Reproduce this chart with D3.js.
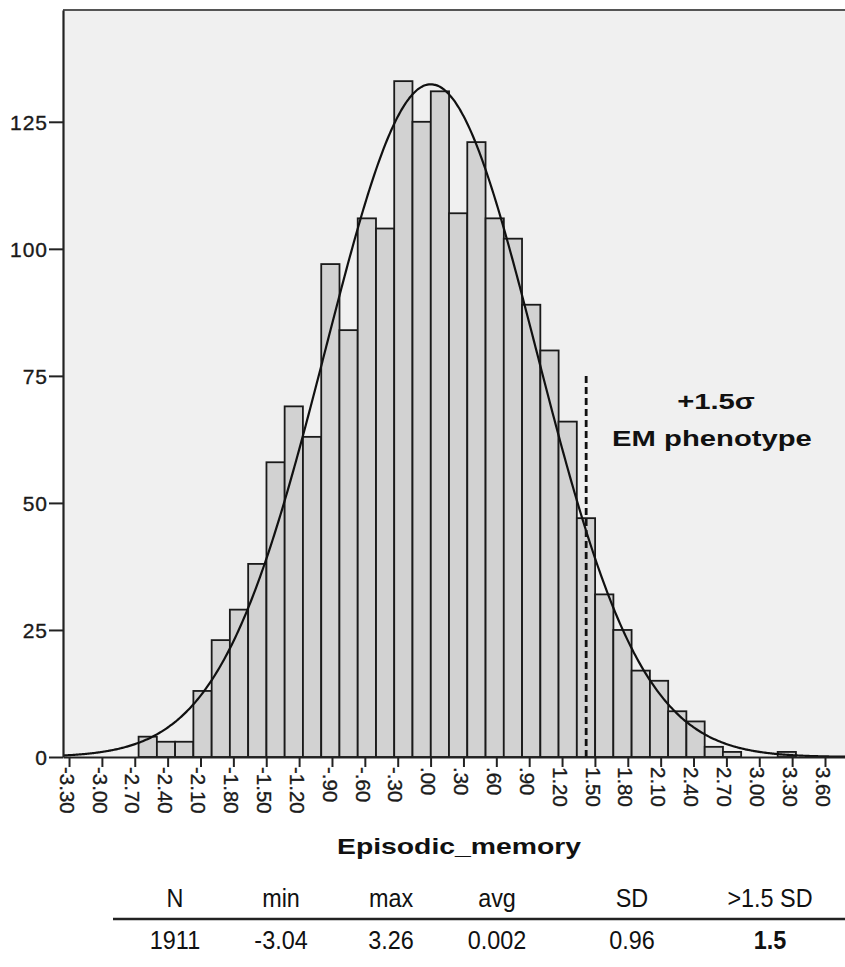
<!DOCTYPE html>
<html>
<head>
<meta charset="utf-8">
<script src="https://cdn.jsdelivr.net/npm/d3@7/dist/d3.min.js"></script>
<style>
  html, body { margin: 0; padding: 0; background: #ffffff; }
  svg { display: block; }
  text { font-family: "Liberation Sans", Arial, sans-serif; }
</style>
</head>
<body>
<svg id="chart" width="845" height="967"></svg>
<script>
// ---------------- data ----------------
const binLefts = [-2.665, -2.498, -2.332, -2.165, -1.998, -1.832, -1.665, -1.498, -1.332, -1.165,
                  -0.998, -0.832, -0.665, -0.498, -0.332, -0.165, 0.002, 0.168, 0.335, 0.502,
                  0.668, 0.835, 1.002, 1.168, 1.335, 1.502, 1.668, 1.835, 2.002, 2.168,
                  2.335, 2.502, 2.668, 2.835, 3.002, 3.168];
const binWidth = 0.1667;
const counts = [4, 3, 3, 13, 23, 29, 38, 58, 69, 63,
                97, 84, 106, 104, 133, 125, 131, 107, 121, 106,
                102, 89, 80, 66, 47, 32, 25, 17, 15, 9,
                7, 2, 1, 0, 0, 1];
const xTickValues = [-3.3, -3.0, -2.7, -2.4, -2.1, -1.8, -1.5, -1.2, -0.9, -0.6, -0.3, 0.0,
                     0.3, 0.6, 0.9, 1.2, 1.5, 1.8, 2.1, 2.4, 2.7, 3.0, 3.3, 3.6];
const xTickLabels = ["-3.30", "-3.00", "-2.70", "-2.40", "-2.10", "-1.80", "-1.50", "-1.20", "-.90", "-.60", "-.30", ".00",
                     ".30", ".60", ".90", "1.20", "1.50", "1.80", "2.10", "2.40", "2.70", "3.00", "3.30", "3.60"];
const yTickValues = [0, 25, 50, 75, 100, 125];
const fitN = 1911, fitMean = 0.002, fitSD = 0.96;
const thresholdX = 1.42, thresholdTop = 75.2;
const xTitle = "Episodic_memory";
const annotLines = ["+1.5\u03C3", "EM phenotype"];
const tableHeaders = ["N", "min", "max", "avg", "SD", ">1.5 SD"];
const tableValues = ["1911", "-3.04", "3.26", "0.002", "0.96", "1.5"];

// ---------------- layout ----------------
const W = 845, H = 967;
const plot = { left: 63, top: 10, right: 845, bottom: 757 };
const svg = d3.select("#chart");

const x = d3.scaleLinear().domain([-3.355, 3.7825]).range([plot.left, plot.right]);
const y = d3.scaleLinear().domain([0, 147]).range([plot.bottom, plot.top]);

svg.append("rect").attr("width", W).attr("height", H).attr("fill", "#ffffff");

// plot background
svg.append("rect")
  .attr("x", plot.left).attr("y", plot.top)
  .attr("width", plot.right - plot.left).attr("height", plot.bottom - plot.top)
  .attr("fill", "#f0f0f0");

// clip
svg.append("clipPath").attr("id", "pclip").append("rect")
  .attr("x", plot.left).attr("y", plot.top)
  .attr("width", plot.right - plot.left).attr("height", plot.bottom - plot.top);

const gPlot = svg.append("g").attr("clip-path", "url(#pclip)");

// bars
const bins = counts.map((c, i) => ({ x0: binLefts[i], x1: binLefts[i] + binWidth, c }));
gPlot.selectAll("rect.bar").data(bins.filter(d => d.c > 0)).enter().append("rect")
  .attr("class", "bar")
  .attr("x", d => x(d.x0))
  .attr("y", d => y(d.c))
  .attr("width", d => x(d.x1) - x(d.x0))
  .attr("height", d => y(0) - y(d.c))
  .attr("fill", "#d2d2d2")
  .attr("stroke", "#1a1a1a")
  .attr("stroke-width", 1.8);

// normal curve
const dom = x.domain();
const curvePts = d3.range(0, 501).map(i => {
  const xv = dom[0] + (dom[1] - dom[0]) * i / 500;
  const z = (xv - fitMean) / fitSD;
  const yv = fitN * binWidth * Math.exp(-0.5 * z * z) / (fitSD * Math.sqrt(2 * Math.PI));
  return [xv, yv];
});
gPlot.append("path")
  .datum(curvePts)
  .attr("d", d3.line().x(d => x(d[0])).y(d => y(d[1])).curve(d3.curveBasis))
  .attr("fill", "none")
  .attr("stroke", "#111")
  .attr("stroke-width", 2.2);

// dashed threshold line
gPlot.append("line")
  .attr("x1", x(thresholdX)).attr("x2", x(thresholdX))
  .attr("y1", y(0)).attr("y2", y(thresholdTop))
  .attr("stroke", "#111")
  .attr("stroke-width", 2.8)
  .attr("stroke-dasharray", "7,4");

// top frame
svg.append("line")
  .attr("x1", plot.left).attr("x2", plot.right)
  .attr("y1", plot.top).attr("y2", plot.top)
  .attr("stroke", "#555").attr("stroke-width", 2.2);

// y axis
const yAxis = svg.append("g")
  .attr("transform", `translate(${plot.left},0)`)
  .call(d3.axisLeft(y).tickValues(yTickValues).tickSize(14).tickSizeOuter(0).tickPadding(1));
yAxis.select(".domain").attr("stroke", "#222").attr("stroke-width", 2.2);
yAxis.selectAll(".tick line").attr("stroke", "#222").attr("stroke-width", 2);
yAxis.selectAll(".tick text")
  .attr("fill", "#1a1a1a")
  .attr("stroke", "#1a1a1a")
  .attr("stroke-width", 0.35)
  .style("font-size", "21px")
  .style("letter-spacing", "1px")
  .attr("dy", "0.36em");

// x axis
const xAxis = svg.append("g")
  .attr("transform", `translate(0,${plot.bottom})`)
  .call(d3.axisBottom(x).tickValues(xTickValues).tickFormat((d, i) => xTickLabels[i]).tickSize(10).tickSizeOuter(0));
xAxis.select(".domain").attr("stroke", "#222").attr("stroke-width", 2.2);
xAxis.selectAll(".tick line").attr("stroke", "#222").attr("stroke-width", 2);
xAxis.selectAll(".tick text")
  .attr("fill", "#1a1a1a")
  .attr("stroke", "#1a1a1a")
  .attr("stroke-width", 0.35)
  .style("font-size", "20.5px")
  .attr("transform", "rotate(90)")
  .attr("x", 10)
  .attr("y", 0)
  .attr("dy", "0.48em")
  .style("text-anchor", "start");

// annotation
const annPos = [[716, 409], [712, 446]];
annotLines.forEach((t, i) => {
  svg.append("text")
    .attr("transform", `translate(${annPos[i][0]},${annPos[i][1]}) scale(1.3,1)`)
    .attr("text-anchor", "middle")
    .style("font-size", "22.5px")
    .style("font-weight", "bold")
    .attr("fill", "#111")
    .text(t);
});

// x title
svg.append("text")
  .attr("transform", `translate(459,854) scale(1.3,1)`)
  .attr("text-anchor", "middle")
  .style("font-size", "21.8px")
  .style("font-weight", "bold")
  .attr("fill", "#111")
  .text(xTitle);

// stats table
const colX = [175, 281, 391, 497, 632, 770];
const headerY = 907, ruleY = 919, valueY = 949;
tableHeaders.forEach((t, i) => {
  svg.append("text")
    .attr("transform", `translate(${colX[i]},${headerY}) scale(0.9,1)`)
    .attr("text-anchor", "middle")
    .style("font-size", "26px")
    .attr("fill", "#111")
    .text(t);
});
svg.append("line")
  .attr("x1", 113).attr("x2", 845)
  .attr("y1", ruleY).attr("y2", ruleY)
  .attr("stroke", "#222").attr("stroke-width", 2.5);
tableValues.forEach((t, i) => {
  svg.append("text")
    .attr("transform", `translate(${colX[i]},${valueY}) scale(0.9,1)`)
    .attr("text-anchor", "middle")
    .style("font-size", "26px")
    .style("font-weight", i === tableValues.length - 1 ? "bold" : "normal")
    .attr("fill", "#111")
    .text(t);
});
</script>
</body>
</html>
